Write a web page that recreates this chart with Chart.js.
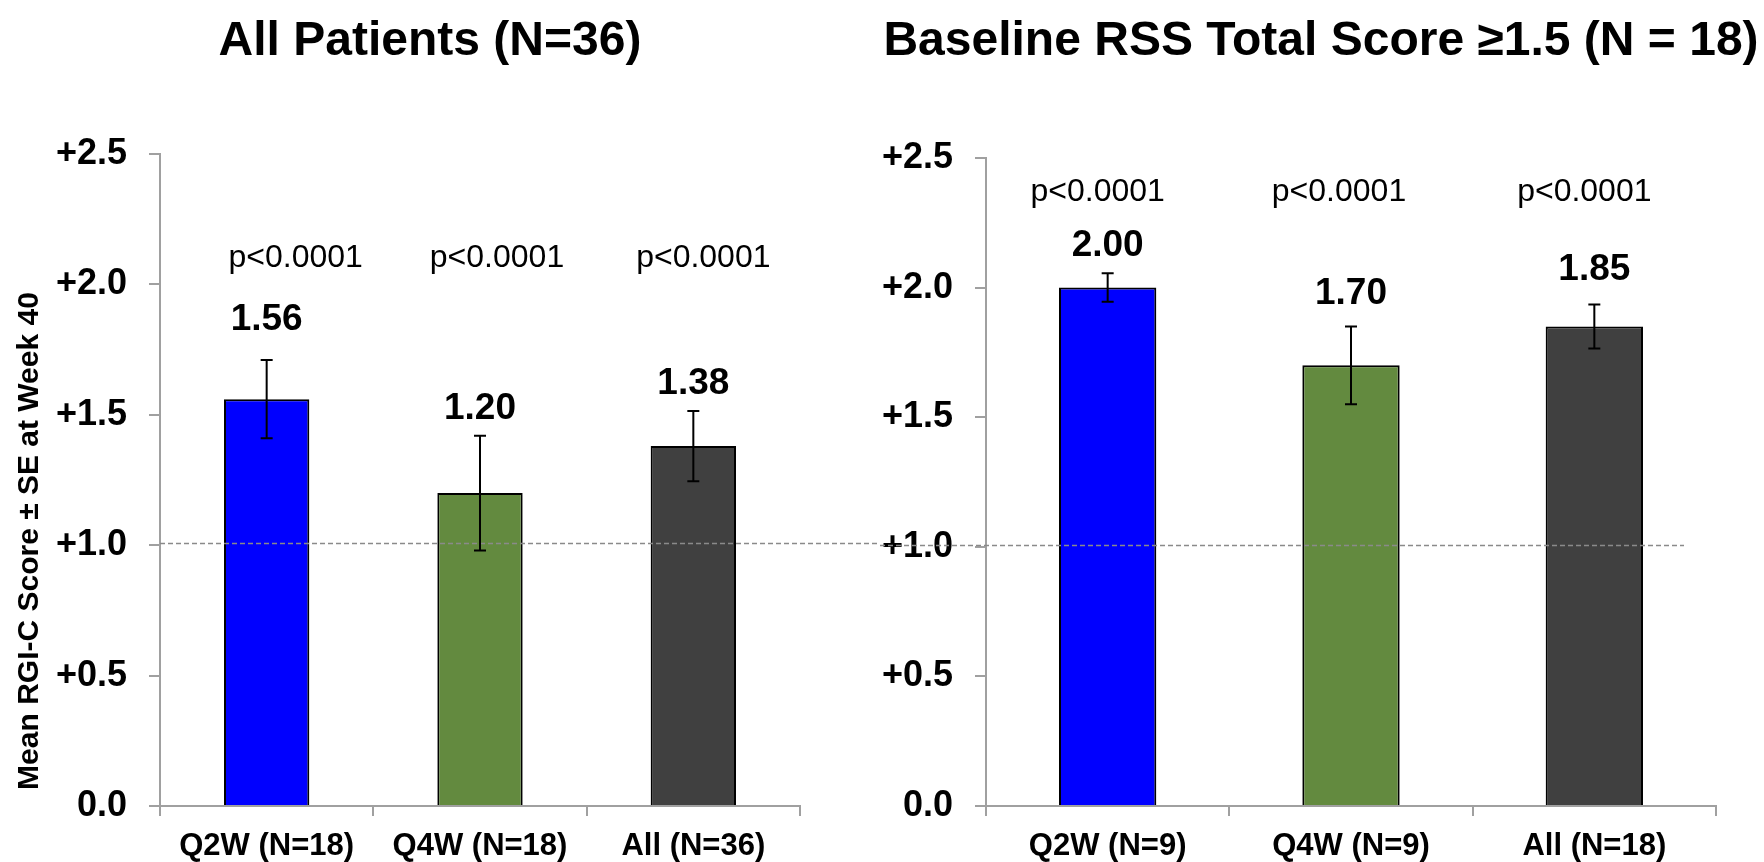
<!DOCTYPE html>
<html>
<head>
<meta charset="utf-8">
<script src="https://cdn.jsdelivr.net/npm/chart.js@4.4.1/dist/chart.umd.min.js"></script>
<style>
  html, body { margin: 0; padding: 0; background: #fff; }
  #wrap { position: relative; width: 1764px; height: 862px; }
  canvas { position: absolute; top: 0; }
</style>
</head>
<body>
<div id="wrap">
  <canvas id="leftChart" width="880" height="862" style="left:0px"></canvas>
  <canvas id="rightChart" width="884" height="862" style="left:880px"></canvas>
</div>
<script>
// values
var leftLabels = ['Q2W (N=18)', 'Q4W (N=18)', 'All (N=36)'];
var leftMeans = [1.56, 1.20, 1.38];
var leftSE = [0.15, 0.22, 0.135];
var leftP = ['p<0.0001', 'p<0.0001', 'p<0.0001'];

var rightLabels = ['Q2W (N=9)', 'Q4W (N=9)', 'All (N=18)'];
var rightMeans = [2.00, 1.70, 1.85];
var rightSE = [0.055, 0.15, 0.085];
var rightP = ['p<0.0001', 'p<0.0001', 'p<0.0001'];

var yTicks = [0, 0.5, 1.0, 1.5, 2.0, 2.5];
var refLine = 1.0;

var barColors = ['#0000ff', '#638a3f', '#404040'];
var axisColor = '#a0a0a0';
var FONT = '"Liberation Sans", Arial, Helvetica, sans-serif';

Chart.defaults.font.family = FONT;
Chart.defaults.color = '#000';

// error bars, value labels, p-values, titles and the dashed line at 1.0
const extras = {
  id: 'extras',
  afterDraw(chart, args, opts) {
    const ctx = chart.ctx;
    const y = chart.scales.y;
    const area = chart.chartArea;
    const meta = chart.getDatasetMeta(0);
    ctx.save();

    // dashed reference line (runs across both canvases)
    const ry = Math.round(y.getPixelForValue(refLine)) - 1.5;
    ctx.strokeStyle = '#8a8a8a';
    ctx.lineWidth = 1.5;
    ctx.setLineDash([5, 3]);
    ctx.beginPath();
    ctx.moveTo(opts.refFromArea ? area.left : 0, ry);
    ctx.lineTo(opts.refToEdge ? chart.width : area.right - opts.refStop, ry);
    ctx.stroke();
    ctx.setLineDash([]);

    meta.data.forEach(function (bar, i) {
      const m = opts.means[i], se = opts.se[i];
      const top = y.getPixelForValue(m + se);
      const bot = y.getPixelForValue(m - se);
      ctx.strokeStyle = '#000';
      ctx.lineWidth = 2;
      ctx.beginPath();
      ctx.moveTo(bar.x, top); ctx.lineTo(bar.x, bot);
      ctx.moveTo(bar.x - 6, top); ctx.lineTo(bar.x + 6, top);
      ctx.moveTo(bar.x - 6, bot); ctx.lineTo(bar.x + 6, bot);
      ctx.stroke();

      ctx.fillStyle = '#000';
      ctx.textAlign = 'center';
      ctx.textBaseline = 'middle';
      ctx.font = 'bold 37px ' + FONT;
      ctx.fillText(m.toFixed(2), bar.x, top - opts.labelGap[i]);

      ctx.font = '32px ' + FONT;
      ctx.fillText(opts.p[i], bar.x + opts.pShift[i], y.getPixelForValue(opts.pY));
    });

    ctx.font = 'bold 48px ' + FONT;
    ctx.textAlign = 'center';
    ctx.textBaseline = 'middle';
    ctx.fillText(opts.title, opts.titleX, 42);

    if (opts.yTitle) {
      ctx.translate(30, 541);
      ctx.rotate(-Math.PI / 2);
      ctx.font = 'bold 30px ' + FONT;
      ctx.fillText(opts.yTitle, 0, 0);
    }
    ctx.restore();
  }
};

function makeChart(id, labels, means, se, pvals, cfg) {
  return new Chart(document.getElementById(id), {
    type: 'bar',
    data: {
      labels: labels,
      datasets: [{
        data: means,
        backgroundColor: barColors,
        borderColor: '#000',
        borderWidth: 2,
        barPercentage: 0.4,
        categoryPercentage: 1.0
      }]
    },
    options: {
      responsive: false,
      animation: false,
      devicePixelRatio: 1,
      layout: { padding: { top: cfg.top, right: cfg.right, left: 0, bottom: 0 } },
      plugins: {
        legend: { display: false },
        tooltip: { enabled: false },
        extras: {
          means: means, se: se, p: pvals,
          pY: cfg.pY, pShift: cfg.pShift, labelGap: cfg.labelGap,
          title: cfg.title, titleX: cfg.titleX, yTitle: cfg.yTitle,
          refFromArea: cfg.refFromArea, refToEdge: cfg.refToEdge, refStop: cfg.refStop
        }
      },
      scales: {
        x: {
          grid: { drawOnChartArea: false, tickLength: 10, color: axisColor, lineWidth: 2, offset: true },
          border: { color: axisColor, width: 2 },
          ticks: { font: { size: 31, weight: 'bold' }, color: '#000', padding: 12, maxRotation: 0 },
          afterFit: function (s) { s.height = 56; }
        },
        y: {
          min: 0,
          max: 2.5,
          afterBuildTicks: function (s) { s.ticks = yTicks.map(function (v) { return { value: v }; }); },
          grid: { drawOnChartArea: false, tickLength: 11, color: axisColor, lineWidth: 2 },
          border: { color: axisColor, width: 2 },
          ticks: {
            font: { size: 36, weight: 'bold' },
            color: '#000',
            padding: 22,
            callback: function (v) { return v === 0 ? '0.0' : '+' + v.toFixed(1); }
          },
          afterFit: function (s) { s.width = cfg.yWidth; }
        }
      }
    },
    plugins: [extras]
  });
}

makeChart('leftChart', leftLabels, leftMeans, leftSE, leftP, {
  top: 154, right: 80, yWidth: 160,
  pY: 2.1, pShift: [29, 17, 10], labelGap: [40, 27, 27],
  title: 'All Patients (N=36)', titleX: 430,
  yTitle: 'Mean RGI-C Score \u00b1 SE at Week 40',
  refFromArea: true, refToEdge: true, refStop: 0
});

makeChart('rightChart', rightLabels, rightMeans, rightSE, rightP, {
  top: 158, right: 48, yWidth: 106,
  pY: 2.37, pShift: [-10, -12, -10], labelGap: [28, 33, 35],
  title: 'Baseline RSS Total Score \u22651.5 (N = 18)', titleX: 441,
  yTitle: null,
  refFromArea: false, refToEdge: false, refStop: 32
});
</script>
</body>
</html>
